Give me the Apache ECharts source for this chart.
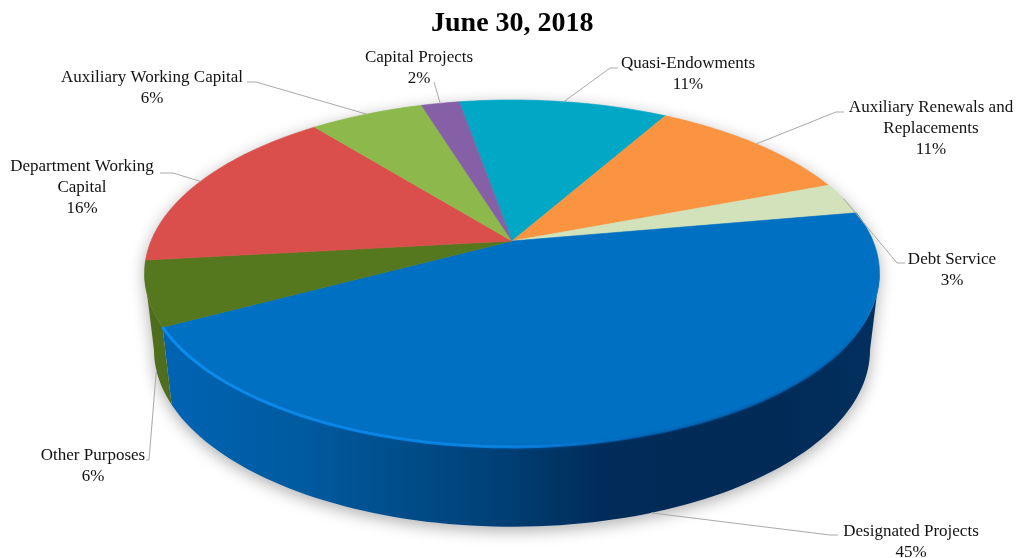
<!DOCTYPE html>
<html>
<head>
<meta charset="utf-8">
<style>html,body{margin:0;padding:0;background:#fff}#chart{width:1018px;height:558px}</style>
<script src="https://cdn.jsdelivr.net/npm/echarts@6/dist/echarts.min.js"></script>
</head>
<body>
<div id="chart"></div>
<script>
// Fund balance shares, clockwise from the top of the disc
const categories = [
  'Quasi-Endowments',
  'Auxiliary Renewals and\nReplacements',
  'Debt Service',
  'Designated Projects',
  'Other Purposes',
  'Department Working\nCapital',
  'Auxiliary Working Capital',
  'Capital Projects'
];
const shares = [11, 11, 3, 45, 6, 16, 6, 2];
const topColors = ['#00a8c6', '#fb9440', '#d2e2bb', '#0070c2', '#55781f', '#da4f4b', '#8db84c', '#8560a6'];
const titleText = 'June 30, 2018';

// Label text centres, leader elbows and which face each leader meets
const labelCenters = [[688, 74], [931, 128.5], [952, 270], [911, 542], [93, 466], [82, 187.5], [152, 88], [419, 68.5]];
const leaderElbows = [
  [[610, 68], [618, 68]],
  [[836, 112], [844, 112]],
  [[897, 263], [905, 263]],
  [[830, 535], [838, 535]],
  [[149, 460], [146, 460]],
  [[173, 173], [160, 173]],
  [[256, 82], [247, 82]],
  [[434, 82]]
];
const leaderLevels = [0, 0, 0, 1, 1, 0, 0, 0];

// Perspective disc: top face and the base below it
const startAngle = -10;
const tilt = 0.187;
const faces = [
  { cx: 512, cy: 241, rx: 361, ry: 167.4 },
  { cx: 512, cy: 316.8, rx: 351.7, ry: 170.7 }
];
const VISIBLE_FROM = 100.8, VISIBLE_TO = 259.2;
const total = shares.reduce((a, b) => a + b, 0);

function project(deg, level) {
  const f = faces[level], t = deg * Math.PI / 180;
  const u = Math.sin(t), v = Math.cos(t), w = 1 + tilt * v;
  return [f.cx + f.rx * u / w, f.cy - f.ry * v / w];
}
function arc(from, to, level) {
  const pts = [], n = Math.max(2, Math.ceil(Math.abs(to - from) / 1.5));
  for (let i = 0; i <= n; i++) pts.push(project(from + (to - from) * i / n, level));
  return pts;
}
function sliceRange(i) {
  let sum = 0;
  for (let k = 0; k < i; k++) sum += shares[k];
  return [startAngle + sum / total * 360, startAngle + (sum + shares[i]) / total * 360];
}

const LG = echarts.graphic.LinearGradient;
const sideFills = {
  3: new LG(0, 0, 1, 0, [
    { offset: 0, color: '#0064b4' },
    { offset: 0.2, color: '#005a9e' },
    { offset: 0.45, color: '#004279' },
    { offset: 0.62, color: '#012b58' },
    { offset: 0.85, color: '#012a56' },
    { offset: 1, color: '#02305f' }
  ]),
  4: '#4e6e1d'
};

const option = {
  animation: false,
  backgroundColor: '#fff',
  title: {
    text: titleText, left: 431, top: 10, padding: 0,
    textStyle: { fontFamily: 'Liberation Serif', fontWeight: 'bold', fontSize: 28, color: '#000' }
  },
  series: [
    {
      // soft drop shadow under the whole silhouette
      type: 'custom', coordinateSystem: 'none', z: 1, silent: true,
      data: [total],
      renderItem: () => ({
        type: 'polygon',
        shape: { points: arc(VISIBLE_FROM, VISIBLE_TO, 1).concat(arc(VISIBLE_TO, VISIBLE_FROM + 360, 0)) },
        style: { fill: '#d8d8d8', shadowBlur: 16, shadowColor: 'rgba(0,0,0,0.32)', shadowOffsetY: 4 }
      })
    },
    {
      // outer wall of the slices that face the viewer
      type: 'custom', coordinateSystem: 'none', z: 2, silent: true,
      data: shares,
      renderItem: (params) => {
        const i = params.dataIndex, r = sliceRange(i);
        const a = Math.max(r[0], VISIBLE_FROM), b = Math.min(r[1], VISIBLE_TO);
        if (a >= b) return { type: 'group', children: [] };
        return {
          type: 'polygon',
          shape: { points: arc(a, b, 0).concat(arc(b, a, 1)) },
          style: { fill: sideFills[i] || topColors[i] }
        };
      }
    },
    {
      // top face
      type: 'custom', coordinateSystem: 'none', z: 3, silent: true,
      data: shares,
      renderItem: (params) => {
        const i = params.dataIndex, r = sliceRange(i);
        return {
          type: 'polygon',
          shape: { points: [[faces[0].cx, faces[0].cy]].concat(arc(r[0], r[1], 0)) },
          style: { fill: topColors[i], stroke: topColors[i], lineWidth: 0.6 }
        };
      }
    },
    {
      // soft bevel along the front rim of the largest slice
      type: 'custom', coordinateSystem: 'none', z: 4, silent: true,
      data: [shares[3]],
      renderItem: () => {
        const r = sliceRange(3);
        return {
          type: 'polyline',
          shape: { points: arc(r[0] + 34, r[1], 0) },
          style: {
            fill: 'none', lineWidth: 3,
            shadowBlur: 3, shadowColor: 'rgba(0,100,190,0.6)',
            stroke: new LG(0, 0, 1, 0, [
              { offset: 0, color: 'rgba(10,142,240,0.95)' },
              { offset: 0.5, color: 'rgba(10,135,232,0.8)' },
              { offset: 0.68, color: 'rgba(0,100,180,0.65)' },
              { offset: 0.95, color: 'rgba(0,96,175,0.5)' },
              { offset: 1, color: 'rgba(0,96,175,0)' }
            ])
          }
        };
      }
    },
    {
      // leader lines and percentage labels
      type: 'custom', coordinateSystem: 'none', z: 5, silent: true,
      data: shares,
      renderItem: (params) => {
        const i = params.dataIndex, r = sliceRange(i);
        const mid = (r[0] + r[1]) / 2;
        const pct = Math.round(shares[i] / total * 100);
        return {
          type: 'group',
          children: [
            {
              type: 'polyline',
              shape: { points: [project(mid, leaderLevels[i])].concat(leaderElbows[i]) },
              style: { fill: 'none', stroke: '#a9a9a9', lineWidth: 1 }
            },
            {
              type: 'text',
              style: {
                text: categories[i] + '\n' + pct + '%',
                x: labelCenters[i][0], y: labelCenters[i][1],
                align: 'center', verticalAlign: 'middle',
                fontFamily: 'Liberation Serif', fontSize: 17, lineHeight: 21, fill: '#111'
              }
            }
          ]
        };
      }
    }
  ]
};

echarts.init(document.getElementById('chart'), null, { renderer: 'canvas' }).setOption(option);
</script>
</body>
</html>
